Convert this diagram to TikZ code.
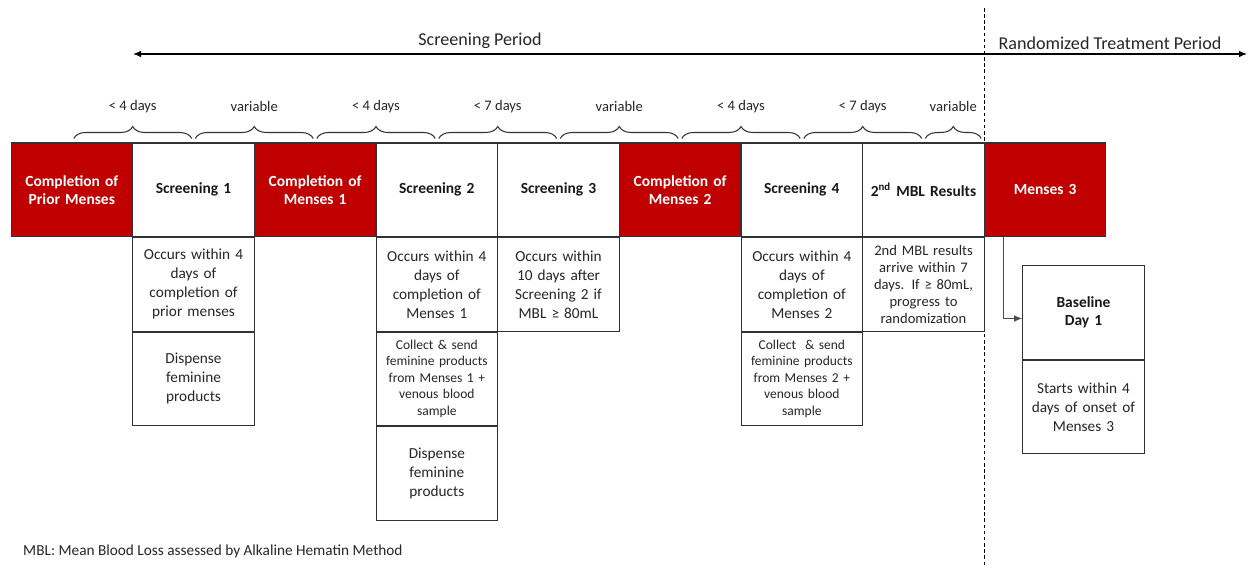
\documentclass[tikz,border=0pt]{standalone}
\usepackage{fontspec}
\setmainfont{Carlito}
\usepackage{xcolor}
\usetikzlibrary{positioning,arrows.meta,decorations.pathreplacing}
\definecolor{mensred}{RGB}{192,0,0}
\definecolor{boxline}{RGB}{50,50,50}

\begin{document}
\begin{tikzpicture}[
  mensbox/.style={draw=boxline, line width=0.6pt, fill=mensred, text=white,
    font=\fontsize{8.8}{10.2}\selectfont\bfseries, text width=2.19cm,
    align=center, minimum height=1.87cm, inner xsep=0.12cm},
  screenbox/.style={mensbox, fill=white, text=black!90},
  notebox/.style={draw=boxline, line width=0.6pt, fill=white, text=black!85,
    font=\fontsize{8.7}{10.8}\selectfont, text width=2.19cm,
    align=center, minimum height=1.87cm, inner xsep=0.12cm},
  smallnote/.style={notebox, font=\fontsize{7.7}{9.4}\selectfont},
  spanbrace/.style={decorate, decoration={brace, amplitude=0.24cm},
    draw=black!80, line width=0.6pt},
  gaplabel/.style={font=\fontsize{8.3}{10}\selectfont, text=black!85},
  period/.style={font=\fontsize{10.3}{12}\selectfont, text=black!85},
  tip/.style={-{Latex[length=1.6mm,width=1.3mm]}}
]
\useasboundingbox (0,0) rectangle (24.96,11.38);

% period arrow
\coordinate (pstart) at (2.66,10.30);
\coordinate (pend) at (24.94,10.30);
\draw[{Latex[length=1.6mm,width=1.3mm]}-{Latex[length=1.6mm,width=1.3mm]}, line width=0.6pt] (pstart) -- (pend);
\node[period] (scrperiod) at (9.60,10.56) {Screening Period};
\node[period] (randperiod) at (22.20,10.52) {Randomized Treatment Period};

% divider
\coordinate (divtop) at (19.69,11.22);
\coordinate (divbot) at (19.69,0.04);
\draw[dashed, dash pattern=on 2pt off 1.5pt, line width=0.6pt] (divtop) -- (divbot);

% braces
\coordinate (t0) at (1.44,8.61);
\coordinate (t1) at (3.87,8.61);
\coordinate (t2) at (6.30,8.61);
\coordinate (t3) at (8.74,8.61);
\coordinate (t4) at (11.17,8.61);
\coordinate (t5) at (13.60,8.61);
\coordinate (t6) at (16.04,8.61);
\coordinate (t7) at (18.47,8.61);
\coordinate (t8) at (19.66,8.61);

\draw[spanbrace] ([xshift=1pt]t0) -- ([xshift=-1pt]t1) node[gaplabel, midway, yshift=0.63cm] (gap1) {< 4 days};
\draw[spanbrace] ([xshift=1pt]t1) -- ([xshift=-1pt]t2) node[gaplabel, midway, yshift=0.63cm] (gap2) {variable};
\draw[spanbrace] ([xshift=1pt]t2) -- ([xshift=-1pt]t3) node[gaplabel, midway, yshift=0.63cm] (gap3) {< 4 days};
\draw[spanbrace] ([xshift=1pt]t3) -- ([xshift=-1pt]t4) node[gaplabel, midway, yshift=0.63cm] (gap4) {< 7 days};
\draw[spanbrace] ([xshift=1pt]t4) -- ([xshift=-1pt]t5) node[gaplabel, midway, yshift=0.63cm] (gap5) {variable};
\draw[spanbrace] ([xshift=1pt]t5) -- ([xshift=-1pt]t6) node[gaplabel, midway, yshift=0.63cm] (gap6) {< 4 days};
\draw[spanbrace] ([xshift=1pt]t6) -- ([xshift=-1pt]t7) node[gaplabel, midway, yshift=0.63cm] (gap7) {< 7 days};
\draw[spanbrace] ([xshift=1pt]t7) -- ([xshift=-1pt]t8) node[gaplabel, midway, yshift=0.63cm] (gap8) {variable};

% top row
\node[mensbox] (prior) at (1.437,7.585) {Completion of\\Prior Menses};
\node[screenbox] (scr1) at (3.870,7.585) {Screening 1};
\node[mensbox] (mens1) at (6.303,7.585) {Completion of\\Menses 1};
\node[screenbox] (scr2) at (8.737,7.585) {Screening 2};
\node[screenbox] (scr3) at (11.170,7.585) {Screening 3};
\node[mensbox] (mens2) at (13.603,7.585) {Completion of\\Menses 2};
\node[screenbox] (scr4) at (16.037,7.585) {Screening 4};
\node[screenbox] (mbl) at (18.470,7.585) {2\textsuperscript{nd} MBL Results};
\node[mensbox] (mens3) at (20.903,7.585) {Menses 3};

% visit details
\node[notebox, below=0pt of scr1] (scr1a) {Occurs within 4\\days of\\completion of\\prior menses};
\node[notebox, below=0pt of scr1a] (scr1b) {Dispense\\feminine\\products};

\node[notebox, below=0pt of scr2] (scr2a) {Occurs within 4\\days of\\completion of\\Menses 1};
\node[smallnote, below=0pt of scr2a] (scr2b) {Collect \& send\\feminine products\\from Menses 1 +\\venous blood\\sample};
\node[notebox, below=0pt of scr2b] (scr2c) {Dispense\\feminine\\products};

\node[notebox, below=0pt of scr3] (scr3a) {Occurs within\\10 days after\\Screening 2 if\\MBL ≥ 80mL};

\node[notebox, below=0pt of scr4] (scr4a) {Occurs within 4\\days of\\completion of\\Menses 2};
\node[smallnote, below=0pt of scr4a] (scr4b) {Collect \ \& send\\feminine products\\from Menses 2 +\\venous blood\\sample};

\node[notebox, font=\fontsize{8.3}{9.7}\selectfont, below=0pt of mbl] (mbla) {2nd MBL results\\arrive within 7\\days. If ≥ 80mL,\\progress to\\randomization};

% baseline
\node[screenbox] (base) at (21.67,5.13) {Baseline\\Day 1};
\node[notebox, below=0pt of base] (basenote) {Starts within 4\\days of onset of\\Menses 3};
\draw[tip, draw=black!70, line width=0.6pt] ([xshift=0.39cm]mens3.south west) |- ([yshift=-0.12cm]base.west);

% footnote
\node[anchor=west, font=\fontsize{8.7}{10.8}\selectfont, text=black!85] (mblnote) at (0.34,0.36) {MBL: Mean Blood Loss assessed by Alkaline Hematin Method};
\end{tikzpicture}
\end{document}
